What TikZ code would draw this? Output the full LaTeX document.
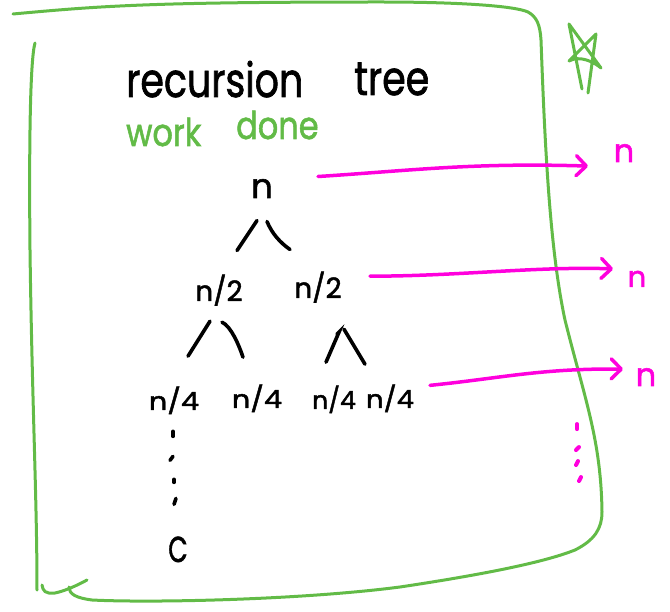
\documentclass[tikz,border=0pt]{standalone}
\usepackage{fontspec}
\setmainfont{Poppins}
\newfontfamily\ink{Poppins}[FakeBold=1.6]
\usetikzlibrary{arrows.meta,calc}
\definecolor{framegreen}{RGB}{98,187,71}
\definecolor{pinkm}{RGB}{255,0,221}
\begin{document}
\begin{tikzpicture}[x=1pt,y=-1pt,
  frame/.style={draw=framegreen,line width=3pt,line cap=round,line join=round},
  inkline/.style={draw=black,line width=3.6pt,line cap=round},
  pinkdot/.style={draw=pinkm,line width=4pt,line cap=round},
  work/.style={draw=pinkm,line width=3.5pt,line cap=round,-{Straight Barb[length=10pt,width=20pt,round]}},
  lbl/.style={inner sep=0pt,anchor=base,text=black},
  wlbl/.style={inner sep=0pt,anchor=base,text=pinkm,font=\ink\fontsize{32}{32}\selectfont},
  big/.style={font=\ink\fontsize{34}{34}\selectfont},
  mid/.style={font=\ink\fontsize{28}{28}\selectfont},
  small/.style={font=\ink\fontsize{25}{25}\selectfont}]
\useasboundingbox (0,0) rectangle (670,612);
% frame
\draw[frame] (13,14) .. controls (100,6) and (150,2) .. (380,2)
  .. controls (460,2) and (515,6) .. (528,12)
  .. controls (537,17) and (540,25) .. (541,40)
  .. controls (545,150) and (550,250) .. (565,320)
  .. controls (585,400) and (601,440) .. (602,512)
  .. controls (602,528) and (595,540) .. (575,550)
  .. controls (550,560) and (500,572) .. (400,587)
  .. controls (300,600) and (150,603) .. (92,600)
  .. controls (76,598) and (69,594) .. (69,587);
\draw[frame] (35,43) .. controls (30,60) and (29,150) .. (30,250)
  .. controls (32,400) and (37,500) .. (37,590);
\draw[frame] (42,585) .. controls (43,591) and (45,594) .. (55,593) .. controls (65,591) and (78,585) .. (87,580);
% star
\draw[frame] (582,89) -- (569,24) -- (601,68) .. controls (594,62) and (580,55) .. (569,61) -- (596,34) -- (588,93);
% titles
\node[inner sep=0pt,anchor=base west,font=\ink\fontsize{38}{38}\selectfont] (title1) at (126,97) {\scalebox{1}[1.25]{recursion}};
\node[inner sep=0pt,anchor=base west,font=\ink\fontsize{38}{38}\selectfont] (title2) at (354,95) {\scalebox{1}[1.25]{tree}};
\node[inner sep=0pt,anchor=base west,text=framegreen,font=\ink\fontsize{32}{32}\selectfont] (work) at (126,146) {\scalebox{1}[1.2]{work}};
\node[inner sep=0pt,anchor=base west,text=framegreen,font=\ink\fontsize{32}{32}\selectfont] (done) at (236,139) {\scalebox{1}[1.2]{done}};
% tree nodes
\node[lbl,big] (n0) at (262,198) {n};
\node[lbl,mid] (n2a) at (219,301) {n/2};
\node[lbl,mid] (n2b) at (318,298) {n/2};
\node[lbl,small] (n4a) at (174,410) {\scalebox{1.15}[1]{n/4}};
\node[lbl,small] (n4b) at (257,408) {\scalebox{1.15}[1]{n/4}};
\node[lbl,small] (n4c) at (334,409) {n/4};
\node[lbl,small] (n4d) at (390,408) {\scalebox{1.1}[1]{n/4}};
\node[lbl,font=\ink\fontsize{36}{36}\selectfont] (cc) at (178,562) {\scalebox{0.7}[1]{C}};
% branches
\draw[inkline] ($(n0)+(-5,32)$) -- ($(n0)+(-25,62)$);
\draw[inkline] ($(n0)+(5,33)$) .. controls ($(n0)+(10,45)$) and ($(n0)+(18,54)$) .. ($(n0)+(28,61)$);
\draw[inkline] ($(n2a)+(-9,31)$) -- ($(n2a)+(-31,66)$);
\draw[inkline] ($(n2a)+(3,32)$) .. controls ($(n2a)+(12,36)$) and ($(n2a)+(20,55)$) .. ($(n2a)+(24,67)$);
\draw[inkline] ($(n2b)+(19,47)$) -- ($(n2b)+(21,45)$) -- ($(n2b)+(8,75)$);
\draw[inkline] ($(n2b)+(26,42)$) -- ($(n2b)+(47,77)$);
% dots
\draw[inkline] ($(n4a)+(-1,31)$) -- ($(n4a)+(-1,36)$);
\draw[inkline] ($(n4a)+(-1,56)$) -- ($(n4a)+(-4,60)$);
\draw[inkline] ($(n4a)+(0,79)$) -- ($(n4a)+(0,82)$);
\draw[inkline] ($(n4a)+(2,98)$) -- ($(n4a)+(0,104)$);
% work labels
\node[wlbl] (t1) at (624,162) {n};
\node[wlbl,font=\ink\fontsize{29}{29}\selectfont] (t2) at (637,287) {n};
\node[wlbl] (t3) at (646,386) {n};
\draw[work] ($(n0)+(56,-12)$) .. controls ($(n0)+(150,-18)$) and ($(n0)+(210,-26)$) .. ($(t1)+(-36,13)$);
\draw[work] ($(n2b)+(52,-11)$) .. controls ($(n2b)+(140,-11)$) and ($(n2b)+(220,-21)$) .. ($(t2)+(-24,-10)$);
\draw[work] ($(n4d)+(40,-13)$) .. controls ($(n4d)+(110,-20)$) and ($(n4d)+(150,-30)$) .. ($(t3)+(-23,-8)$);
\draw[pinkdot] ($(t3)+(-69,47)$) -- ($(t3)+(-69,52)$);
\draw[pinkdot] ($(t3)+(-70,73)$) -- ($(t3)+(-67,70)$);
\draw[pinkdot] ($(t3)+(-70,88)$) -- ($(t3)+(-68,84)$);
\draw[pinkdot] ($(t3)+(-67,104)$) -- ($(t3)+(-65,100)$);
\end{tikzpicture}
\end{document}
